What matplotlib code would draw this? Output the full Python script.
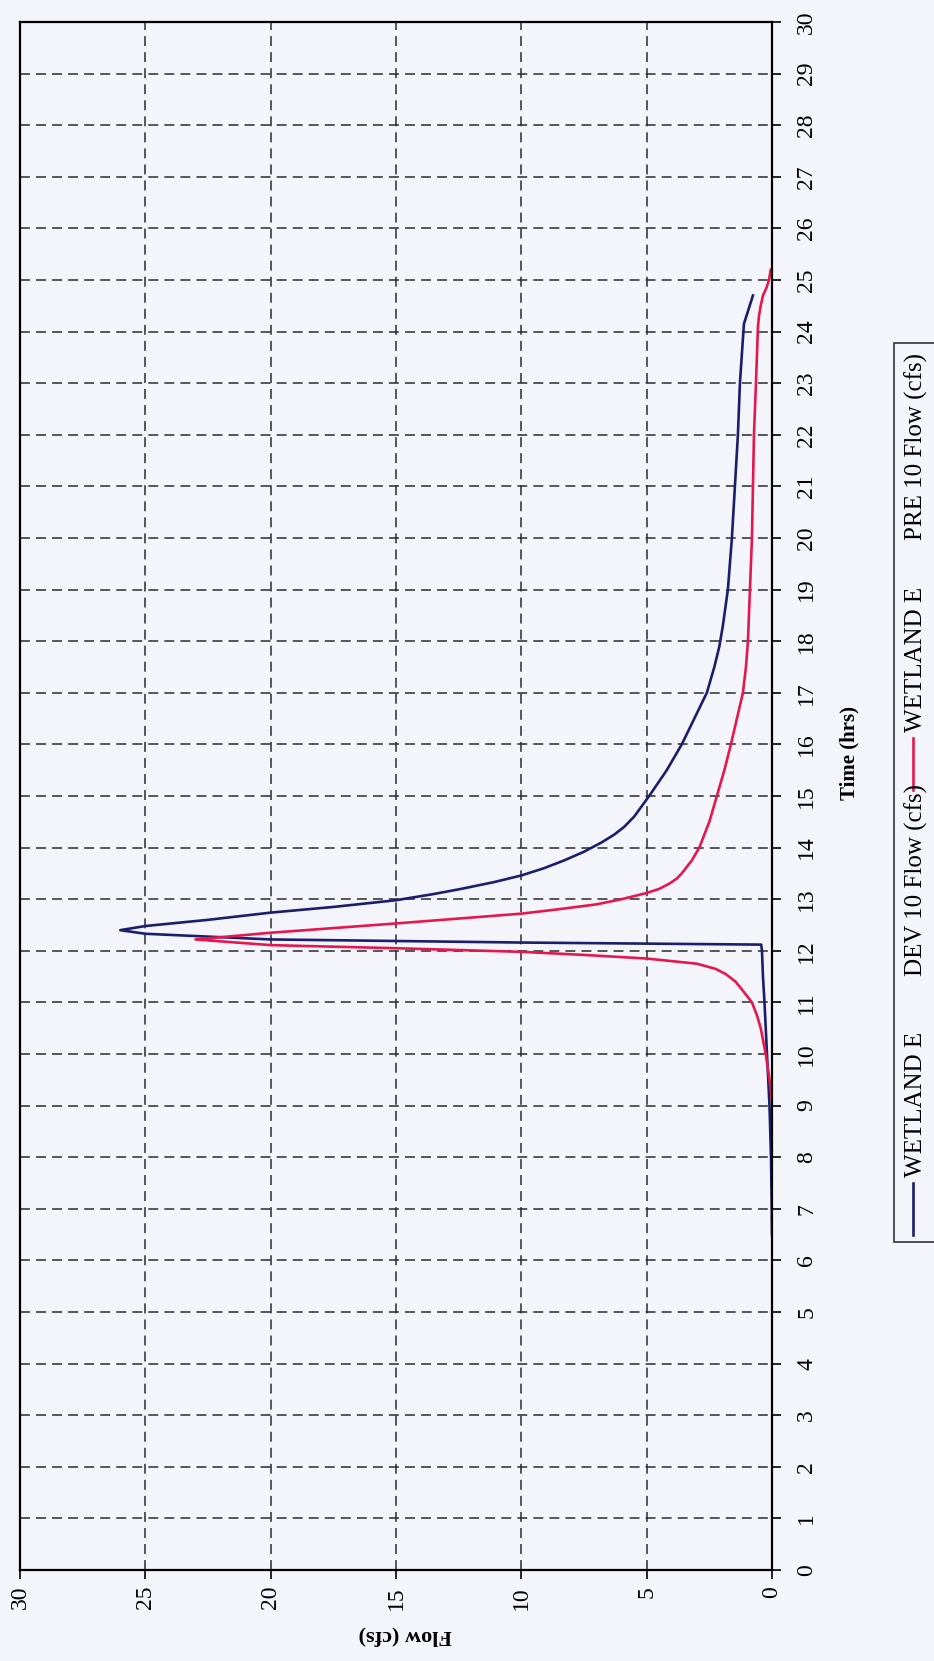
import matplotlib
matplotlib.use("Agg")
import matplotlib.pyplot as plt
import matplotlib.transforms as mtransforms
from matplotlib.lines import Line2D
from matplotlib.patches import Rectangle

# WETLAND E - DEV 10 hydrograph (time in hrs, flow in cfs)
dev_time = [6.5, 7.0, 8.0, 9.0, 10.0, 11.0, 11.5, 12.0, 12.12, 12.16, 12.22, 12.33, 12.40,
            12.48, 12.60, 12.74, 12.85, 12.98, 13.10, 13.20, 13.33, 13.46, 13.60, 13.75,
            13.92, 14.10, 14.25, 14.40, 14.60, 14.80, 15.0, 15.25, 15.5, 15.75, 16.0,
            16.25, 16.5, 16.75, 17.0, 17.25, 17.5, 17.9, 18.3, 19.0, 20.0, 21.0, 22.0,
            23.0, 24.15, 24.7]
dev_flow = [0.0, 0.01, 0.04, 0.1, 0.2, 0.3, 0.36, 0.4, 0.43, 10.0, 20.0, 25.0, 26.0,
            25.0, 22.5, 20.0, 17.5, 15.0, 13.5, 12.4, 11.1, 10.0, 9.1, 8.3,
            7.5, 6.8, 6.3, 5.9, 5.5, 5.2, 4.9, 4.55, 4.2, 3.9, 3.6,
            3.35, 3.1, 2.85, 2.6, 2.45, 2.3, 2.1, 1.96, 1.76, 1.6, 1.48, 1.36,
            1.28, 1.12, 0.76]

# WETLAND E - PRE 10 hydrograph
pre_time = [9.1, 9.5, 10.0, 10.5, 10.75, 11.0, 11.25, 11.4, 11.55, 11.65, 11.75, 11.85,
            11.92, 11.98, 12.05, 12.11, 12.22, 12.35, 12.53, 12.72, 12.80, 12.90, 13.0,
            13.12, 13.20, 13.30, 13.40, 13.50, 13.75, 14.0, 14.25, 14.5, 14.75, 15.0,
            15.5, 16.0, 16.5, 17.0, 17.5, 18.0, 19.0, 20.0, 21.0, 22.0, 23.0, 24.1,
            24.3, 24.5, 24.7, 24.85, 25.0, 25.2]
pre_flow = [0.0, 0.1, 0.25, 0.45, 0.6, 0.8, 1.2, 1.45, 1.85, 2.25, 3.0, 5.0,
            7.5, 10.0, 15.0, 20.0, 23.0, 20.0, 15.0, 10.0, 8.6, 7.0, 6.0,
            5.0, 4.5, 4.1, 3.8, 3.6, 3.2, 2.9, 2.7, 2.5, 2.35, 2.2,
            1.9, 1.64, 1.4, 1.16, 1.04, 0.96, 0.88, 0.8, 0.76, 0.72, 0.64, 0.56,
            0.52, 0.45, 0.36, 0.22, 0.12, 0.05]

flow_ticks = list(range(0, 31, 5))
time_ticks = list(range(0, 31))
legend_names = ["WETLAND E", "WETLAND E"]
legend_series = ["DEV 10 Flow (cfs)", "PRE 10 Flow (cfs)"]

BG = "#f4f5fb"
DEV_COLOR = "#1b1f6b"
PRE_COLOR = "#e5174f"
W, H = 934, 1661

plt.rcParams["font.family"] = ["Liberation Serif", "DejaVu Serif"]

fig = plt.figure(figsize=(W / 100, H / 100), dpi=100, facecolor=BG)
ax = fig.add_axes([20 / W, 91 / H, 752 / W, 1548 / H])
ax.set_facecolor(BG)

ax.plot(dev_flow, dev_time, color=DEV_COLOR, linewidth=1.9)
ax.plot(pre_flow, pre_time, color=PRE_COLOR, linewidth=1.9)

ax.set_xlim(30, 0)
ax.set_ylim(0, 30)
ax.set_xticks(flow_ticks)
ax.set_yticks(time_ticks)
ax.yaxis.tick_right()
ax.grid(True, color="#2b2b2b", linewidth=1.1, linestyle=(0, (6.5, 4)))
for sp in ax.spines.values():
    sp.set_linewidth(1.6)
    sp.set_color("black")

ax.tick_params(axis="both", direction="out", length=6.5, width=1.2, labelsize=17)
ax.tick_params(axis="y", pad=11)
ax.tick_params(axis="x", pad=5)
for lbl in ax.get_yticklabels():
    lbl.set_rotation(90)
    lbl.set_ha("left")
    lbl.set_va("center")
for lbl in ax.get_xticklabels():
    lbl.set_rotation(90)
    lbl.set_ha("center")
    lbl.set_va("top")

ax.set_ylabel("Time (hrs)", fontsize=15, fontweight="bold", rotation=90)
ax.yaxis.set_label_position("right")
ax.yaxis.label.set_va("center")
ax.yaxis.set_label_coords(1.103, 0.528)

ax.set_xlabel("Flow (cfs)", fontsize=16, fontweight="bold", rotation=180)
ax.xaxis.label.set_va("center")
ax.xaxis.set_label_coords(0.512, -0.0426)

# legend drawn by hand, rotated like the rest of the page
trans = mtransforms.blended_transform_factory(fig.transFigure, ax.transData)
fig.add_artist(Rectangle((894 / W, 6.36), 60 / W, 23.78 - 6.36, transform=trans,
                         facecolor=BG, edgecolor="#333333", linewidth=1.2, clip_on=False))
xl = 913 / W
xt = 916 / W
fig.add_artist(Line2D([xl, xl], [6.49, 7.50], transform=trans, color=DEV_COLOR, linewidth=1.9))
fig.text(xt, 7.62, legend_names[0], transform=trans, rotation=90, ha="center", va="bottom", fontsize=18)
fig.text(xt, 11.51, legend_series[0], transform=trans, rotation=90, ha="center", va="bottom", fontsize=18)
fig.add_artist(Line2D([xl, xl], [15.12, 16.12], transform=trans, color=PRE_COLOR, linewidth=1.9))
fig.text(xt, 16.25, legend_names[1], transform=trans, rotation=90, ha="center", va="bottom", fontsize=18)
fig.text(xt, 19.96, legend_series[1], transform=trans, rotation=90, ha="center", va="bottom", fontsize=18)

fig.savefig("out.png", dpi=100, facecolor=BG)
plt.close()
